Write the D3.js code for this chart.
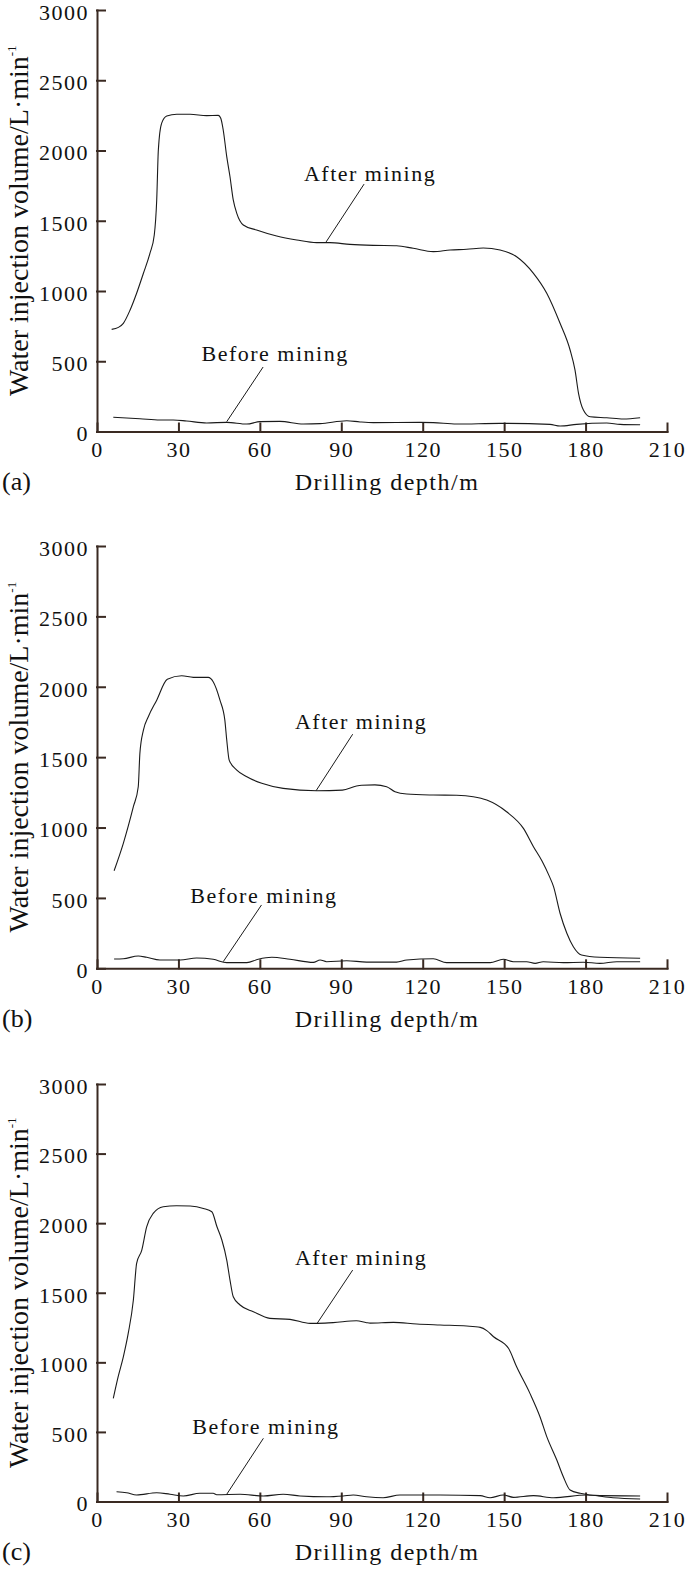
<!DOCTYPE html>
<html>
<head>
<meta charset="utf-8">
<script src="https://cdn.jsdelivr.net/npm/d3@7"></script>
<style>
  body { margin: 0; background: #fff; }
  svg text { font-family: "Liberation Serif", "Times New Roman", serif; fill: #111; }
</style>
</head>
<body>
<div id="chart"></div>
<script>
// tick values shared by all three panels
const depthTicks = [0, 30, 60, 90, 120, 150, 180, 210];
const volumeTicks = [0, 500, 1000, 1500, 2000, 2500, 3000];
const panelLabels = ['(a)', '(b)', '(c)'];

// [drilling depth m, water injection volume L/min]
const afterMiningA = [[5.4,727],[7.9,741],[9.7,770],[12.2,865],[14.6,984],[17.1,1126],[19.5,1268],[21.1,1399],[22.0,1648],[22.6,2004],[23.8,2193],[25.7,2245],[29.4,2258],[34.3,2258],[40.4,2248],[44.7,2250],[45.6,2229],[46.5,2146],[47.8,1956],[49.0,1813],[50.2,1648],[51.5,1553],[53.9,1470],[58.8,1434],[66.2,1391],[73.6,1363],[80.9,1344],[85.8,1344],[93.2,1332],[101.8,1325],[110.4,1322],[116.5,1304],[123.9,1280],[130.1,1292],[136.2,1297],[142.3,1306],[148.5,1292],[154.6,1244],[160.8,1126],[165.7,984],[170.6,770],[174.3,580],[176.1,438],[177.4,272],[179.2,153],[181.7,105],[187.8,98],[193.9,89],[200.1,98]];
const beforeMiningA = [[6,101],[15.8,91],[23.2,82],[28.1,82],[33,75],[40.4,61],[47.8,65],[55.2,53],[60,70],[67.4,72],[76,53],[82.2,56],[92,77],[96.9,68],[101.8,63],[119,65],[123.9,63],[132.5,53],[148.5,58],[166.9,51],[170.6,39],[176.7,51],[187.8,60],[192.7,51],[200.1,48]];

const afterMiningB = [[6.3,693],[9.7,888],[13.4,1148],[15.2,1290],[15.8,1527],[17.1,1692],[18.9,1787],[22,1905],[25.9,2053],[31.2,2078],[35.5,2067],[41,2067],[42.8,2036],[45.3,1905],[47.1,1763],[47.8,1622],[48.7,1479],[51.5,1408],[55.2,1361],[60.7,1314],[68.6,1278],[80.9,1261],[90.4,1266],[95.6,1295],[97.5,1300],[102.4,1303],[106.7,1290],[109.8,1254],[114.1,1238],[123.9,1231],[132.5,1229],[138.6,1219],[143.6,1195],[150.9,1112],[157.1,994],[160.8,864],[164,760],[166.5,660],[168.2,580],[170.6,391],[173.1,249],[175.5,153],[178.5,94],[185.3,78],[200.1,71]];
const beforeMiningB = [[6.3,66],[9.7,68],[15.2,87],[18.3,78],[23.2,59],[30.6,59],[36.7,73],[42.8,64],[47.8,40],[55.2,40],[59.4,64],[64.4,78],[71.1,64],[79.7,42],[82.2,59],[84.6,47],[92,54],[99.3,44],[110.4,44],[114.1,59],[123.9,68],[128.8,40],[144.8,40],[149.7,64],[153.4,47],[158.3,47],[161.4,35],[164.4,47],[171.8,40],[179.2,43],[185.3,35],[191.5,47],[200.1,47]];

const afterMiningC = [[6,741],[7.8,897],[9.7,1040],[11.5,1208],[13.4,1448],[14.6,1711],[16.5,1807],[18.3,1974],[20.7,2070],[24.4,2118],[29.3,2125],[34.3,2123],[39.2,2106],[42.3,2082],[44.2,1974],[46,1879],[47.8,1735],[49,1591],[50.2,1471],[52.7,1412],[57.6,1364],[63.7,1316],[71.1,1309],[78.5,1280],[84,1282],[87,1285],[95.6,1299],[99.3,1285],[100.6,1282],[109.2,1287],[117.8,1275],[126.4,1268],[136.2,1261],[141.2,1251],[143.6,1228],[146.1,1184],[151.6,1101],[154.6,968],[159.5,777],[163.2,609],[165.7,466],[169.4,298],[171.8,178],[174.3,83],[178,59],[185.3,42],[200.1,40]];
const beforeMiningC = [[7.2,70],[10.9,63],[14.6,47],[22,63],[26.9,52],[31.8,40],[37.9,59],[42.8,59],[44.1,49],[52.7,52],[61.3,40],[68.6,52],[74.8,40],[84.6,34],[90.7,40],[94.4,47],[99.3,34],[105.4,27],[111.6,47],[126.4,47],[141.2,42],[144.8,27],[149.7,47],[153.4,30],[160.8,42],[168.2,27],[180.3,47],[190.1,27],[200.1,18]];

// annotation anchors in data units: text point, leader start, leader end
const afterLabelText = [[100.6,1783],[97.3,1700],[97.3,1699]];
const afterLeader = [[[98.4,1761],[84.4,1349]], [[94.2,1663],[80.7,1261]], [[94.2,1663],[81.1,1280]]];
const beforeLabelText = [[65.6,502],[61.5,464],[62.2,485]];
const beforeLeader = [[[61.2,459],[47.8,70]], [[60.6,450],[46.5,47]], [[61.3,454],[47.8,52]]];

const afterSeries = [afterMiningA, afterMiningB, afterMiningC];
const beforeSeries = [beforeMiningA, beforeMiningB, beforeMiningC];

const width = 685, height = 1570;
const plotLeft = 97, plotRight = 667;
const panelTop = [10, 546, 1084];
const panelBottom = [431.5, 968.3, 1501.5];
const axisColor = '#3a2a22';

const svg = d3.select('#chart').append('svg')
    .attr('width', width)
    .attr('height', height);

const x = d3.scaleLinear().domain([0, 210]).range([plotLeft, plotRight]);

panelLabels.forEach((label, i) => {
    const y = d3.scaleLinear().domain([0, 3000]).range([panelBottom[i], panelTop[i]]);
    const g = svg.append('g');

    const line = d3.line()
        .x(d => x(d[0]))
        .y(d => y(d[1]))
        .curve(d3.curveMonotoneX);

    // axes, ticks pointing inward
    const yAxis = g.append('g')
        .attr('transform', 'translate(' + plotLeft + ',0)')
        .call(d3.axisLeft(y).tickValues(volumeTicks).tickFormat(d3.format('d'))
            .tickSizeInner(-8).tickSizeOuter(0).tickPadding(8));
    const xAxis = g.append('g')
        .attr('transform', 'translate(0,' + panelBottom[i] + ')')
        .call(d3.axisBottom(x).tickValues(depthTicks).tickFormat(d3.format('d'))
            .tickSizeInner(-8).tickSizeOuter(0).tickPadding(10));

    [yAxis, xAxis].forEach(ax => {
        ax.attr('font-family', null).attr('font-size', null);
        ax.selectAll('path, line')
            .attr('stroke', axisColor)
            .attr('stroke-width', 2)
            .attr('stroke-linecap', 'square');
        ax.selectAll('text')
            .attr('fill', '#111')
            .style('font-size', '22px')
            .style('letter-spacing', '1.5px');
    });
    yAxis.selectAll('text').attr('dy', '0.42em');

    g.append('path')
        .datum(afterSeries[i])
        .attr('d', line)
        .attr('fill', 'none')
        .attr('stroke', '#1a1a1a')
        .attr('stroke-width', 1.1);

    g.append('path')
        .datum(beforeSeries[i])
        .attr('d', line)
        .attr('fill', 'none')
        .attr('stroke', '#1a1a1a')
        .attr('stroke-width', 1.1);

    // annotations
    const notes = [
        { text: 'After mining', at: afterLabelText[i], leader: afterLeader[i] },
        { text: 'Before mining', at: beforeLabelText[i], leader: beforeLeader[i] }
    ];
    notes.forEach(n => {
        g.append('text')
            .attr('x', x(n.at[0]))
            .attr('y', y(n.at[1]))
            .attr('text-anchor', 'middle')
            .style('font-size', '22px')
            .style('letter-spacing', '1.5px')
            .text(n.text);
        g.append('line')
            .attr('x1', x(n.leader[0][0])).attr('y1', y(n.leader[0][1]))
            .attr('x2', x(n.leader[1][0])).attr('y2', y(n.leader[1][1]))
            .attr('stroke', '#1a1a1a')
            .attr('stroke-width', 1);
    });

    // y title
    const yt = g.append('text')
        .attr('transform', 'translate(28,' + ((panelTop[i] + panelBottom[i]) / 2) + ') rotate(-90)')
        .attr('text-anchor', 'middle')
        .style('font-size', '28px');
    yt.append('tspan').text('Water injection volume/L\u00b7min');
    yt.append('tspan').attr('dy', -12).style('font-size', '13px').text('-1');

    // x title and panel label
    g.append('text')
        .attr('x', 387)
        .attr('y', panelBottom[i] + 58.5)
        .attr('text-anchor', 'middle')
        .style('font-size', '24px')
        .style('letter-spacing', '1.5px')
        .text('Drilling depth/m');

    g.append('text')
        .attr('x', 2)
        .attr('y', panelBottom[i] + 58.5)
        .style('font-size', '26px')
        .text(label);
});
</script>
</body>
</html>
